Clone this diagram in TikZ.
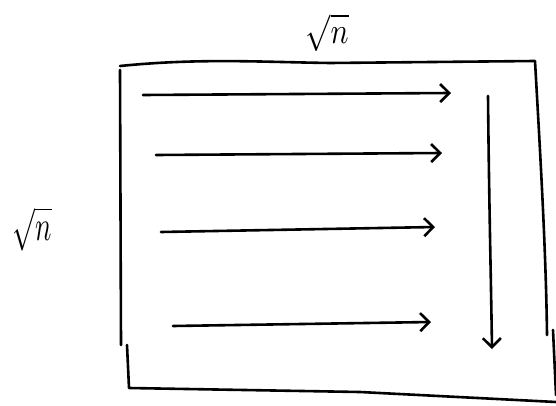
\documentclass[tikz,border=0pt]{standalone}
\usepackage{graphicx}
\usetikzlibrary{arrows.meta}
\begin{document}
\begin{tikzpicture}[x=1pt,y=-1pt,
  pen/.style={line width=2.6pt,line cap=round,line join=round},
  harrow/.style={pen,-{Straight Barb[length=9pt,width=18pt,line width=2.6pt]}},
  lbl/.style={inner sep=0pt,outer sep=0pt}]
\useasboundingbox (0,0) rectangle (556,406);
% frame
\draw[pen] (120,66) .. controls (200,58) and (260,62) .. (330,63) -- (535,61)
  .. controls (540,150) and (546,250) .. (547,335) (553,330) -- (556,395);
\draw[pen] (120,70) -- (121,345) (127,345) -- (129,388) -- (360,392) -- (556,402);
% horizontal arrows
\coordinate (a1s) at (143,95); \coordinate (a1e) at (451,93);
\coordinate (a2s) at (156,155); \coordinate (a2e) at (442,153);
\coordinate (a3s) at (161,232); \coordinate (a3e) at (435,227);
\coordinate (a4s) at (173,326); \coordinate (a4e) at (431,322);
\coordinate (vs) at (488,96); \coordinate (ve) at (492,349);
\draw[harrow] (a1s) -- (a1e);
\draw[harrow] (a2s) -- (a2e);
\draw[harrow] (a3s) -- (a3e);
\draw[harrow] (a4s) -- (a4e);
\draw[harrow] (vs) .. controls (489,200) and (491,280) .. (ve);
% labels
\node[lbl] (top) at (327,33) {\resizebox*{43pt}{38pt}{$\sqrt{n}$}};
\node[lbl] (left) at (32,229) {\resizebox*{39pt}{44pt}{$\sqrt{n}$}};
\end{tikzpicture}
\end{document}
